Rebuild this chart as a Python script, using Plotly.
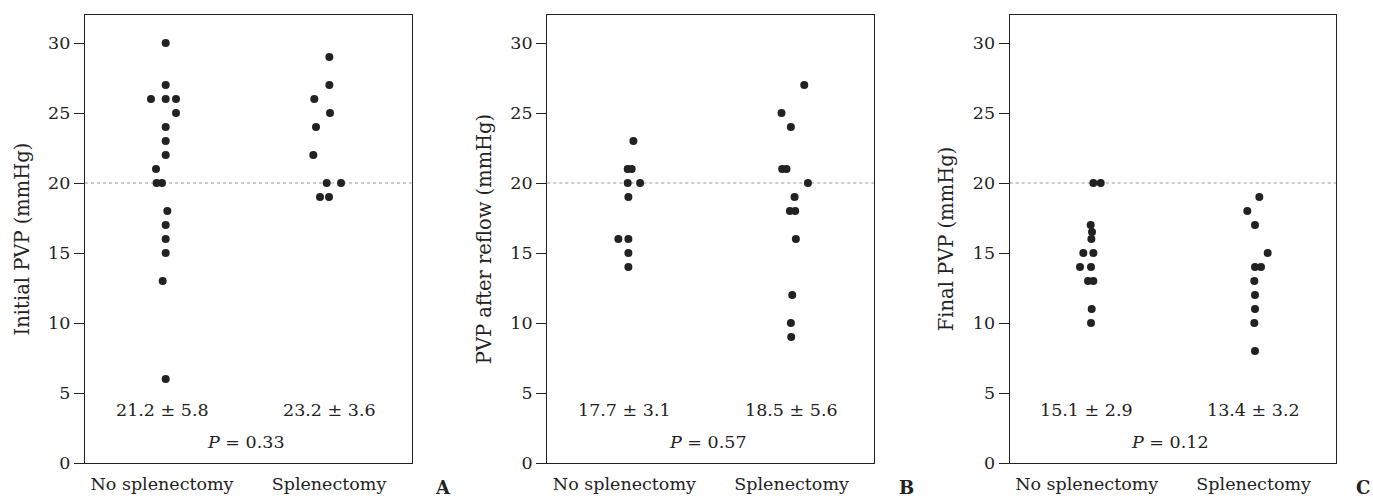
import plotly.graph_objects as go

# ---------------- data ----------------
categories = ["No splenectomy", "Splenectomy"]
y_titles = ["Initial PVP (mmHg)", "PVP after reflow (mmHg)", "Final PVP (mmHg)"]
panel_letters = ["A", "B", "C"]

# Panel A: initial PVP
a_no = [30, 27, 26, 26, 26, 25, 24, 23, 22, 21, 20, 20, 18, 17, 16, 15, 13, 6]
a_sp = [29, 27, 26, 25, 24, 22, 20, 20, 19, 19]
# Panel B: PVP after reflow
b_no = [23, 21, 21, 20, 20, 19, 16, 16, 15, 14]
b_sp = [27, 25, 24, 21, 21, 20, 19, 18, 18, 16, 12, 10, 9]
# Panel C: final PVP
c_no = [20, 20, 17, 16.5, 16, 15, 15, 14, 14, 13, 13, 11, 10]
c_sp = [19, 18, 17, 15, 14, 14, 13, 12, 11, 10, 8]

# horizontal jitter of the dot plot (category units)
a_no_jit = [0.022, 0.022, -0.066, 0.022, 0.084, 0.084, 0.022, 0.022, 0.022,
            -0.036, -0.032, 0.0, 0.032, 0.022, 0.022, 0.022, 0.004, 0.022]
a_sp_jit = [0.002, 0.002, -0.088, 0.006, -0.078, -0.094, -0.014, 0.072, -0.054, 0.0]
b_no_jit = [0.054, 0.020, 0.044, 0.020, 0.094, 0.024, -0.036, 0.024, 0.024, 0.024]
b_sp_jit = [0.076, -0.060, -0.004, -0.056, -0.030, 0.098, 0.018, -0.010, 0.022,
            0.026, 0.004, -0.004, -0.002]
c_no_jit = [0.040, 0.084, 0.024, 0.032, 0.028, -0.020, 0.040, -0.040, 0.026,
            0.008, 0.040, 0.030, 0.026]
c_sp_jit = [0.034, -0.038, 0.008, 0.084, 0.008, 0.044, 0.004, 0.008, 0.008, 0.004, 0.008]

stats_no = ["21.2 ± 5.8", "17.7 ± 3.1", "15.1 ± 2.9"]
stats_sp = ["23.2 ± 3.6", "18.5 ± 5.6", "13.4 ± 3.2"]
p_values = ["0.33", "0.57", "0.12"]
threshold = 20
y_ticks = [0, 5, 10, 15, 20, 25, 30]

panels = [
    (a_no, a_no_jit, a_sp, a_sp_jit),
    (b_no, b_no_jit, b_sp, b_sp_jit),
    (c_no, c_no_jit, c_sp, c_sp_jit),
]

# ---------------- layout constants ----------------
W, H = 1373, 498
FONT = "DejaVu Serif"
FS = 17.5
TITLE_FS = 19.5
INK = "#222222"
domains = [(85 / W, 411.7 / W), (547.3 / W, 874.3 / W), (1009.7 / W, 1336.3 / W)]
letter_x = [(443 / W, "center"), (906 / W, "center"), (1372 / W, "right")]
x_range = [0.539, 2.495]

fig = go.Figure()
annotations = []
shapes = []

for i, (no_vals, no_jit, sp_vals, sp_jit) in enumerate(panels):
    sfx = "" if i == 0 else str(i + 1)
    xa, ya = "x" + sfx, "y" + sfx
    for cat_pos, vals, jit in ((1, no_vals, no_jit), (2, sp_vals, sp_jit)):
        fig.add_trace(go.Scatter(
            x=[cat_pos + j for j in jit], y=vals, mode="markers",
            marker=dict(color=INK, size=8, line=dict(width=0)),
            xaxis=xa, yaxis=ya, showlegend=False, hoverinfo="y"))

    fig.layout["xaxis" + sfx] = dict(
        domain=list(domains[i]), range=x_range, anchor=ya,
        tickvals=[1, 2], ticktext=categories,
        ticks="outside", ticklen=5, tickcolor="rgba(0,0,0,0)",
        tickfont=dict(family=FONT, size=FS, color=INK),
        showline=True, mirror=True, linecolor=INK, linewidth=1.3,
        showgrid=False, zeroline=False)
    fig.layout["yaxis" + sfx] = dict(
        domain=[0, 1], range=[0, 32], anchor=xa,
        tickvals=y_ticks, ticks="outside", ticklen=10, tickwidth=1.3, tickcolor=INK,
        tickfont=dict(family=FONT, size=FS, color=INK),
        title=dict(text=y_titles[i], font=dict(family=FONT, size=TITLE_FS, color=INK), standoff=13),
        showline=True, mirror=True, linecolor=INK, linewidth=1.3,
        showgrid=False, zeroline=False)

    shapes.append(dict(type="line", xref=xa + " domain", yref=ya, x0=0, x1=1,
                       y0=threshold, y1=threshold,
                       line=dict(color="#9a9a9a", width=1.2, dash="3px,3px"), layer="below"))

    for cat_pos, txt in ((1, stats_no[i]), (2, stats_sp[i])):
        annotations.append(dict(x=cat_pos, y=3.8, xref=xa, yref=ya, text=txt, showarrow=False,
                                font=dict(family=FONT, size=FS, color=INK)))
    annotations.append(dict(x=1.5, y=1.5, xref=xa, yref=ya,
                            text="<i>P</i> = " + p_values[i], showarrow=False,
                            font=dict(family=FONT, size=FS, color=INK)))
    lx, anc = letter_x[i]
    annotations.append(dict(x=lx, y=-0.054, xref="paper", yref="paper", xanchor=anc,
                            yanchor="middle", text="<b>" + panel_letters[i] + "</b>",
                            showarrow=False, font=dict(family=FONT, size=18, color=INK)))

fig.update_layout(
    width=W, height=H, margin=dict(l=0, r=0, t=15, b=35),
    plot_bgcolor="white", paper_bgcolor="white",
    annotations=annotations, shapes=shapes, showlegend=False,
    font=dict(family=FONT, size=FS, color=INK))

fig.write_html("out.html", config={"displayModeBar": False},
               post_script="document.body.style.margin='0';document.body.style.overflow='hidden';")
